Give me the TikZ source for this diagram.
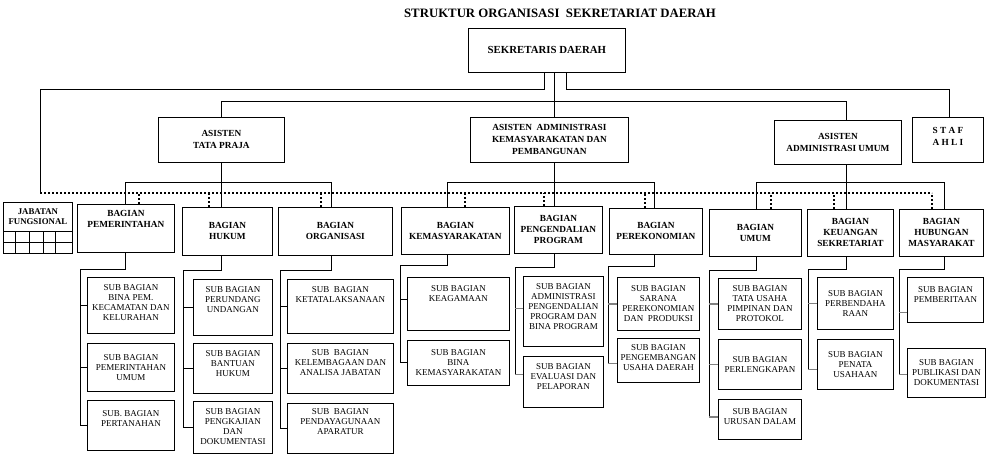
\documentclass[tikz,border=0pt]{standalone}
\usepackage{fontspec}
\setmainfont{Liberation Serif}
\usetikzlibrary{positioning}

\begin{document}
\begin{tikzpicture}[x=1pt, y=-1pt,
  box/.style={draw, line width=0.8pt, align=center, inner sep=1pt, anchor=north west},
  sz/.style 2 args={minimum width=#1pt, minimum height=#2pt},
  lift/.style={text depth=#1pt},
  head/.style={box, font=\bfseries\fontsize{9.3}{12}\selectfont},
  bag/.style={box, font=\bfseries\fontsize{9.3}{11}\selectfont},
  sub/.style={box, font=\fontsize{9}{10}\selectfont},
  conn/.style={line width=0.8pt},
  tick/.style={line width=0.8pt},
  gtick/.style={line width=1.4pt, gray},
  dots/.style={line width=2pt, dash pattern=on 2pt off 2pt}
]
\useasboundingbox (0,0) rectangle (990,457);

\node[font=\bfseries\fontsize{12.8}{14}\selectfont] (title) at (560,13) {STRUKTUR ORGANISASI\ \ SEKRETARIAT DAERAH};
\node[box, sz={157}{44}, font=\bfseries\fontsize{10.8}{12}\selectfont] (sekda) at (468,28) {SEKRETARIS DAERAH};

\node[head, sz={126}{45}] (tata) at (158,117) {ASISTEN\\TATA PRAJA};
\node[head, sz={158}{45}] (kemas) at (470,117) {ASISTEN\ \ ADMINISTRASI\\KEMASYARAKATAN DAN\\PEMBANGUNAN};
\node[head, sz={127}{44}] (asumum) at (774,120) {ASISTEN\\ADMINISTRASI UMUM};
\node[head, sz={71}{45}, lift=6] (staf) at (912,117) {S T A F\\A H L I};

\node[box, sz={69}{29}, font=\bfseries\fontsize{8.8}{10}\selectfont] (jab) at (3,202) {JABATAN\\FUNGSIONAL};

\node[bag, sz={97}{48}, lift=18] (pem) at (77,204) {BAGIAN\\PEMERINTAHAN};
\node[bag, sz={90}{48}] (huk) at (182,207) {BAGIAN\\HUKUM};
\node[bag, sz={114}{48}] (org) at (278,207) {BAGIAN\\ORGANISASI};
\node[bag, sz={108}{47}] (kmy) at (401,207) {BAGIAN\\KEMASYARAKATAN};
\node[bag, sz={88}{47}] (pgd) at (514,206) {BAGIAN\\PENGENDALIAN\\PROGRAM};
\node[bag, sz={93}{46}] (prk) at (609,208) {BAGIAN\\PEREKONOMIAN};
\node[bag, sz={92}{47}] (umb) at (709,209) {BAGIAN\\UMUM};
\node[bag, sz={86}{47}] (keu) at (807,209) {BAGIAN\\KEUANGAN\\SEKRETARIAT};
\node[bag, sz={84}{47}] (hub) at (899,209) {BAGIAN\\HUBUNGAN\\MASYARAKAT};

\node[sub, sz={87}{56}, lift=6] (pm1) at (87,277) {SUB BAGIAN\\BINA PEM.\\KECAMATAN DAN\\KELURAHAN};
\node[sub, sz={87}{48}, below=9pt of pm1.south west, anchor=north west] (pm2) {SUB BAGIAN\\PEMERINTAHAN\\UMUM};
\node[sub, sz={87}{50}, lift=12, below=8pt of pm2.south west, anchor=north west] (pm3) {SUB. BAGIAN\\PERTANAHAN};

\node[sub, sz={79}{56}, lift=16] (hk1) at (193,279) {SUB BAGIAN\\PERUNDANG\\UNDANGAN};
\node[sub, sz={79}{50}, lift=10, below=7pt of hk1.south west, anchor=north west] (hk2) {SUB BAGIAN\\BANTUAN\\HUKUM};
\node[sub, sz={79}{52}, below=7pt of hk2.south west, anchor=north west] (hk3) {SUB BAGIAN\\PENGKAJIAN\\DAN\\DOKUMENTASI};

\node[sub, sz={106}{54}, lift=24] (og1) at (287,279) {SUB\ \ BAGIAN\\KETATALAKSANAAN};
\node[sub, sz={106}{50}, lift=12, below=9pt of og1.south west, anchor=north west] (og2) {SUB\ \ BAGIAN\\KELEMBAGAAN DAN\\ANALISA JABATAN};
\node[sub, sz={106}{50}, lift=12, below=9pt of og2.south west, anchor=north west] (og3) {SUB\ \ BAGIAN\\PENDAYAGUNAAN\\APARATUR};

\node[sub, sz={102}{53}, lift=21] (km1) at (407,277) {SUB BAGIAN\\KEAGAMAAN};
\node[sub, sz={102}{45}, below=9pt of km1.south west, anchor=north west] (km2) {SUB BAGIAN\\BINA\\KEMASYARAKATAN};

\node[sub, sz={80}{70}, lift=10] (pg1) at (523,276) {SUB BAGIAN\\ADMINISTRASI\\PENGENDALIAN\\PROGRAM DAN\\BINA PROGRAM};
\node[sub, sz={80}{51}, lift=11, below=9pt of pg1.south west, anchor=north west] (pg2) {SUB BAGIAN\\EVALUASI DAN\\PELAPORAN};

\node[sub, sz={82}{53}] (pr1) at (617,277) {SUB BAGIAN\\SARANA\\PEREKONOMIAN\\DAN\ \ PRODUKSI};
\node[sub, sz={82}{44}, lift=5, below=7pt of pr1.south west, anchor=north west] (pr2) {SUB BAGIAN\\PENGEMBANGAN\\USAHA DAERAH};

\node[sub, sz={83}{51}] (um1) at (718,278) {SUB BAGIAN\\TATA USAHA\\PIMPINAN DAN\\PROTOKOL};
\node[sub, sz={83}{50}, below=9pt of um1.south west, anchor=north west] (um2) {SUB BAGIAN\\PERLENGKAPAN};
\node[sub, sz={83}{40}, lift=5, below=9pt of um2.south west, anchor=north west] (um3) {SUB BAGIAN\\URUSAN DALAM};

\node[sub, sz={76}{52}] (ku1) at (817,277) {SUB BAGIAN\\PERBENDAHA\\RAAN};
\node[sub, sz={76}{50}, below=9pt of ku1.south west, anchor=north west] (ku2) {SUB BAGIAN\\PENATA\\USAHAAN};

\node[sub, sz={76}{45}, lift=10] (hb1) at (907,277) {SUB BAGIAN\\PEMBERITAAN};
\node[sub, sz={78}{49}, below=25pt of hb1.south west, anchor=north west] (hb2) {SUB BAGIAN\\PUBLIKASI DAN\\DOKUMENTASI};

\coordinate (fl) at (40,193);
\coordinate (fr) at (932,193);

\draw[conn] ([xshift=-2.5pt]sekda.south) -- ++(0,17) -| (fl);
\draw[conn] ([xshift=7.5pt]sekda.south) -- ([xshift=5pt]kemas.north);
\draw[conn] ([xshift=19.5pt]sekda.south) -- ++(0,17) -| ([xshift=1.5pt]staf.north);
\draw[conn] (tata.north) -- ++(0,-16) -| ([xshift=8.5pt]asumum.north);

\draw[conn] (tata.south) -- ++(0,20) coordinate (bt);
\draw[conn] ([xshift=-0.5pt]pem.north) |- (bt) -| ([xshift=-4pt]org.north);
\draw[conn] (bt) -- ([xshift=-6pt]huk.north);
\draw[conn] ([xshift=5pt]kemas.south) -- ++(0,20) coordinate (bk);
\draw[conn] ([xshift=-8pt]kmy.north) |- (bk) -| ([xshift=-1.5pt]prk.north);
\draw[conn] (bk) -- ([xshift=-4pt]pgd.north);
\draw[conn] ([xshift=8.5pt]asumum.south) -- ++(0,18) coordinate (bu);
\draw[conn] ([xshift=1pt]umb.north) |- (bu) -| ([xshift=3pt]hub.north);
\draw[conn] (bu) -- ([xshift=-4pt]keu.north);

\draw[dots] (fl) -- (fr);
\foreach \n/\o in {pem/13.5, huk/-18, org/-14, kmy/10, pgd/-14, prk/-10.5, umb/16, keu/-16, hub/-9}
  \draw[dots] ([xshift=\o pt]\n.north) -- ([xshift=\o pt]\n.north |- fl);

\draw[conn] (jab.south west) rectangle ++(69,22);
\draw[conn] ([yshift=-11pt]jab.south west) -- ++(69,0);
\foreach \x in {12,26,40,52}
  \draw[conn] ([xshift=\x pt]jab.south west) -- ++(0,22);

\foreach \b/\x/\h/\s/\d/\o in {pem/-0.5/17/pm3/7/0, huk/-6/15/hk3/10/0, org/-4/15/og3/7/0, kmy/-8/11/km2/7/0, pgd/-4/14/pg2/8/7.5, prk/-1.5/12/pr2/9/-3, umb/1/14/um3/9/2, keu/-4/13/ku2/9/-5, hub/3/13/hb2/8/-1.5}
  \draw[conn] ([xshift=\x pt]\b.south) -- ++(0,\h) -| ([xshift=-\d pt, yshift=\o pt]\s.west);
\foreach \s/\d/\o in {pm1/7/0, pm2/7/0, pm3/7/0, hk1/10/0, hk2/10/0, hk3/10/0, og1/7/0, og2/7/0, og3/7/0, km1/7/5, km2/7/0}
  \draw[tick] ([xshift=-\d pt, yshift=\o pt]\s.west) -- ([yshift=\o pt]\s.west);
\foreach \s/\d/\o in {pg1/8/3, pg2/8/7.5, pr1/9/0, pr2/9/-3, um1/9/0, um2/9/0, um3/9/2, ku1/9/0, ku2/9/-5, hb1/8/-12.5, hb2/8/-1.5}
  \draw[gtick] ([xshift=-\d pt, yshift=\o pt]\s.west) -- ([yshift=\o pt]\s.west);
\end{tikzpicture}
\end{document}
